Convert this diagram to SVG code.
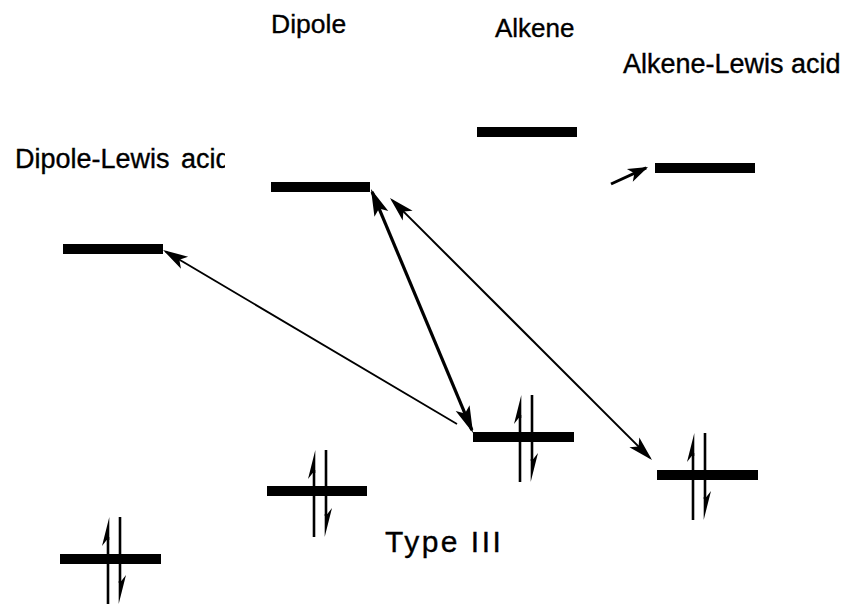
<svg xmlns="http://www.w3.org/2000/svg" xmlns:xlink="http://www.w3.org/1999/xlink" width="849" height="604" viewBox="0 0 849 604">
  <style>
    .label { font-family: "Liberation Sans", Arial, Helvetica, sans-serif; fill: #000; stroke: #000; stroke-width: 0.35; }
    .level { stroke: #000; stroke-width: 10; stroke-linecap: butt; }
    .spin { stroke: #000; stroke-width: 2.6; }
    .conn { fill: none; stroke: #000; }
  </style>
  <defs>
    <!-- notched arrowhead, tip sits 3px past the line end -->
    <marker id="headBig" viewBox="-28 -8 32 16" refX="-3" refY="0" markerWidth="32" markerHeight="16" markerUnits="userSpaceOnUse" orient="auto-start-reverse">
      <path d="M0,0 L-27,-7.5 L-21,0 L-27,7.5 Z" fill="#000"/>
    </marker>
    <marker id="headMid" viewBox="-28 -8 32 16" refX="-3" refY="0" markerWidth="32" markerHeight="16" markerUnits="userSpaceOnUse" orient="auto-start-reverse">
      <path d="M0,0 L-25,-7 L-19,0 L-25,7 Z" fill="#000"/>
    </marker>
    <marker id="headSmall" viewBox="-22 -8 26 16" refX="-2" refY="0" markerWidth="26" markerHeight="16" markerUnits="userSpaceOnUse" orient="auto">
      <path d="M0,0 L-20,-7 L-15,0 L-20,7 Z" fill="#000"/>
    </marker>
    <!-- electron pair: up spin on the left, down spin on the right -->
    <g id="pair">
      <line class="spin" x1="0" y1="20" x2="0" y2="87"/>
      <polygon points="1.3,0 -6,29 -1.3,23 1.3,23" fill="#000"/>
      <line class="spin" x1="12" y1="0" x2="12" y2="66"/>
      <polygon points="10.7,87 18,58 13.3,64 10.7,64" fill="#000"/>
    </g>
    <clipPath id="clipDLA">
      <rect x="0" y="130" width="225" height="60"/>
    </clipPath>
  </defs>

  <!-- column titles -->
  <g id="labels">
    <text class="label" x="271" y="33" font-size="26.5">Dipole</text>
    <text class="label" x="495" y="37" font-size="26">Alkene</text>
    <text class="label" x="623" y="73" font-size="27">Alkene-Lewis acid</text>
    <text class="label" x="15" y="168" font-size="27" word-spacing="4" clip-path="url(#clipDLA)">Dipole-Lewis acid</text>
    <text class="label" x="385" y="552" font-size="30" letter-spacing="2.5" stroke-width="0.2">Type III</text>
  </g>

  <!-- LUMO levels -->
  <g id="dla-lumo"><line class="level" x1="63" y1="249" x2="163" y2="249"/></g>
  <g id="dipole-lumo"><line class="level" x1="271" y1="187" x2="370" y2="187"/></g>
  <g id="alkene-lumo"><line class="level" x1="477" y1="132" x2="577" y2="132"/></g>
  <g id="ala-lumo"><line class="level" x1="655" y1="168" x2="755" y2="168"/></g>

  <!-- HOMO levels with electron pairs -->
  <g id="alkene-homo">
    <line class="level" x1="473" y1="437" x2="574" y2="437"/>
    <use xlink:href="#pair" x="520" y="395"/>
  </g>
  <g id="ala-homo">
    <line class="level" x1="657" y1="475" x2="758" y2="475"/>
    <use xlink:href="#pair" x="693" y="433"/>
  </g>
  <g id="dipole-homo">
    <line class="level" x1="267" y1="491" x2="367" y2="491"/>
    <use xlink:href="#pair" x="314" y="450"/>
  </g>
  <g id="dla-homo">
    <line class="level" x1="60" y1="559" x2="161" y2="559"/>
    <use xlink:href="#pair" x="108" y="517"/>
  </g>

  <!-- interactions -->
  <g id="connectors">
    <line class="conn" x1="457" y1="424" x2="165.6" y2="251.5" stroke-width="1.8" marker-end="url(#headMid)"/>
    <line class="conn" x1="372.1" y1="191.8" x2="471.9" y2="430.2" stroke-width="3.2" marker-start="url(#headBig)" marker-end="url(#headBig)"/>
    <line class="conn" x1="392.1" y1="200.1" x2="649.9" y2="457.9" stroke-width="2" marker-start="url(#headMid)" marker-end="url(#headMid)"/>
    <line class="conn" x1="611" y1="184" x2="646.2" y2="167.8" stroke-width="3" marker-end="url(#headSmall)"/>
  </g>
</svg>
